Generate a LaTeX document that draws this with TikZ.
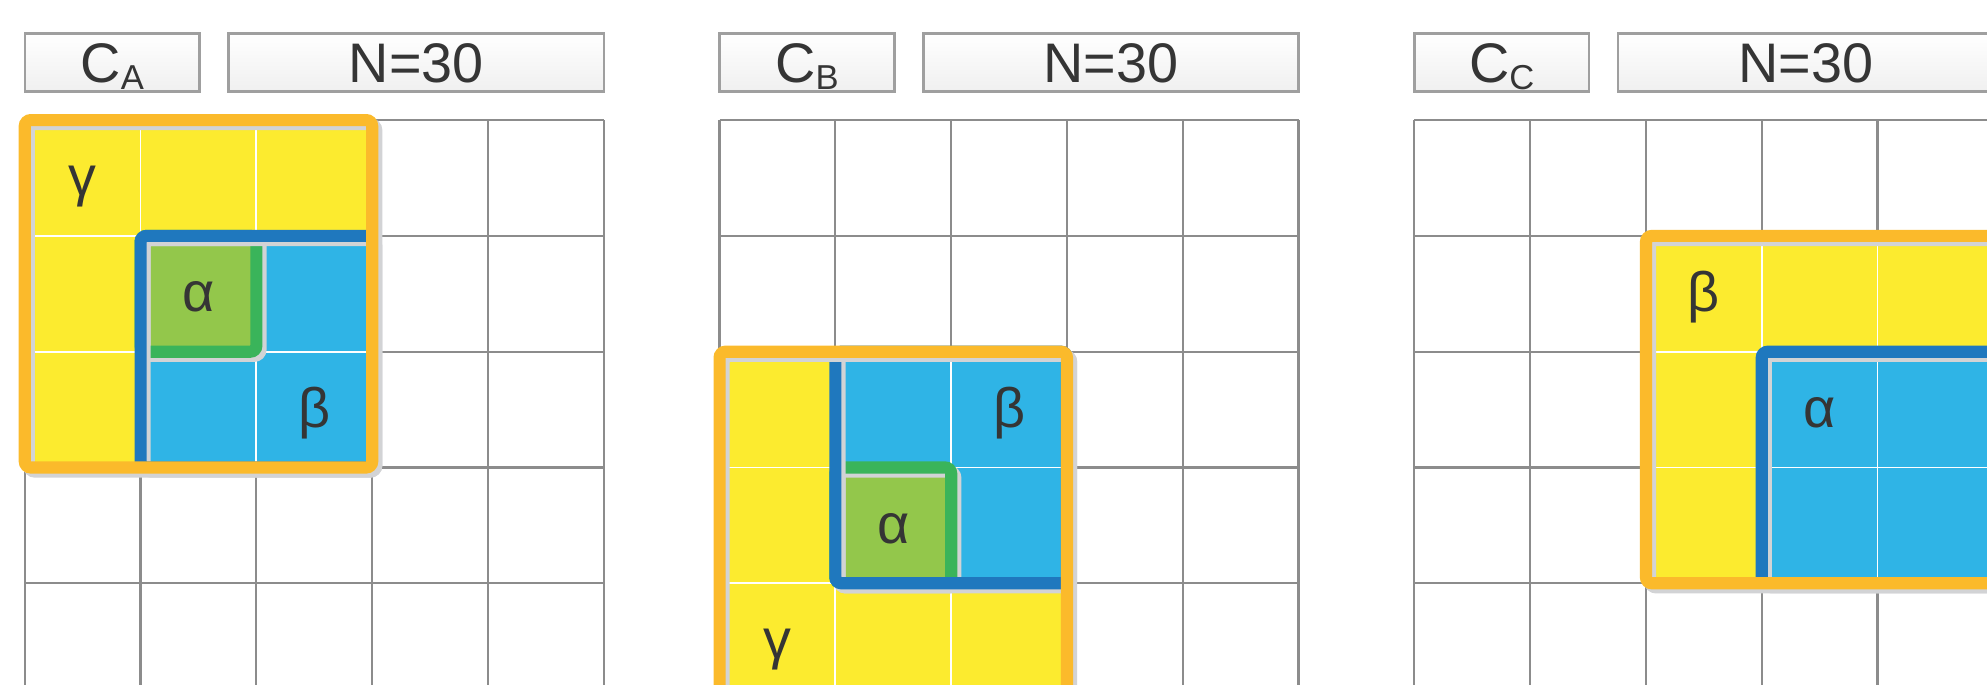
\documentclass[tikz,border=0pt]{standalone}
\usepackage{fontspec}
\setmainfont{Liberation Sans}
\definecolor{cellyellow}{HTML}{FCEB2F}
\definecolor{framorange}{HTML}{FBBA2B}
\definecolor{cellcyan}{HTML}{2FB4E6}
\definecolor{framblue}{HTML}{1F78BE}
\definecolor{cellgreen}{HTML}{93C74B}
\definecolor{framgreen}{HTML}{3AB45A}
\definecolor{shadegray}{HTML}{D2D3D5}
\definecolor{gridgray}{HTML}{8C8C8C}
\definecolor{labelgray}{HTML}{353535}
\newcommand{\csub}[1]{\raisebox{-1.7pt}{\fontsize{8.5}{9}\selectfont #1}}

\begin{document}
\begin{tikzpicture}[
    hdr/.style={rectangle, draw=gray!75, line width=0.6pt, top color=white, bottom color=gray!12, minimum height=0.5cm, inner sep=0pt, text height=10pt, text depth=0pt, font=\fontsize{13.7}{16}\selectfont, text=labelgray},
    lbl/.style={inner sep=0pt, yshift=-0.06cm, text height=1ex, text depth=0pt, font=\fontsize{13.7}{16}\selectfont, text=labelgray},
    gridln/.style={draw=gridgray, line width=0.55pt},
    cellln/.style={draw=white, line width=0.45pt},
    blockframe/.style={line width=0.105cm, rounded corners=1.5pt, preaction={draw=shadegray, line width=0.105cm, transform canvas={shift={(0.035,-0.035)}}}},
]
\useasboundingbox (-0.214,-4.878) rectangle (16.945,1.037);
\clip (-0.214,-4.878) rectangle (16.945,1.037);

% panel A
\draw[gridln] (0,0) grid (5,-5);
\node[hdr, minimum width=1.51cm] (hdrA) at (0.755,0.4985) {C\csub{A}};
\node[hdr, minimum width=3.24cm] (numA) at (3.38,0.4985) {N=30};
\fill[cellyellow] (0,0) rectangle (3,-3);
\fill[cellcyan] (1,-1) rectangle (3,-3);
\fill[cellgreen] (1,-1) rectangle (2,-2);
\draw[cellln] (0,0) grid (3,-3);
\draw[blockframe, framgreen] (1,-1) rectangle (2,-2);
\draw[blockframe, framblue] (1,-1) rectangle (3,-3);
\draw[blockframe, framorange] (0,0) rectangle (3,-3);
\node[lbl] (gamA) at (0.5,-0.5) {γ};
\node[lbl] (alpA) at (1.5,-1.5) {α};
\node[lbl] (betA) at (2.5,-2.5) {β};

% panel B
\begin{scope}[xshift=6cm]
\draw[gridln] (0,0) grid (5,-5);
\node[hdr, minimum width=1.51cm] (hdrB) at (0.755,0.4985) {C\csub{B}};
\node[hdr, minimum width=3.24cm] (numB) at (3.38,0.4985) {N=30};
\fill[cellyellow] (0,-2) rectangle (3,-5);
\fill[cellcyan] (1,-2) rectangle (3,-4);
\fill[cellgreen] (1,-3) rectangle (2,-4);
\draw[cellln] (0,-2) grid (3,-5);
\draw[blockframe, framgreen] (1,-3) rectangle (2,-4);
\draw[blockframe, framblue] (1,-2) rectangle (3,-4);
\draw[blockframe, framorange] (0,-2) rectangle (3,-5);
\node[lbl] (betB) at (2.5,-2.5) {β};
\node[lbl] (alpB) at (1.5,-3.5) {α};
\node[lbl] (gamB) at (0.5,-4.5) {γ};
\end{scope}

% panel C
\begin{scope}[xshift=12cm]
\draw[gridln] (0,0) grid (5,-5);
\node[hdr, minimum width=1.51cm] (hdrC) at (0.755,0.4985) {C\csub{C}};
\node[hdr, minimum width=3.24cm] (numC) at (3.38,0.4985) {N=30};
\fill[cellyellow] (2,-1) rectangle (5,-4);
\fill[cellcyan] (3,-2) rectangle (5,-4);
\draw[cellln] (2,-1) grid (5,-4);
\draw[blockframe, framblue] (3,-2) rectangle (5,-4);
\draw[blockframe, framorange] (2,-1) rectangle (5,-4);
\node[lbl] (betC) at (2.5,-1.5) {β};
\node[lbl] (alpC) at (3.5,-2.5) {α};
\end{scope}
\end{tikzpicture}
\end{document}
